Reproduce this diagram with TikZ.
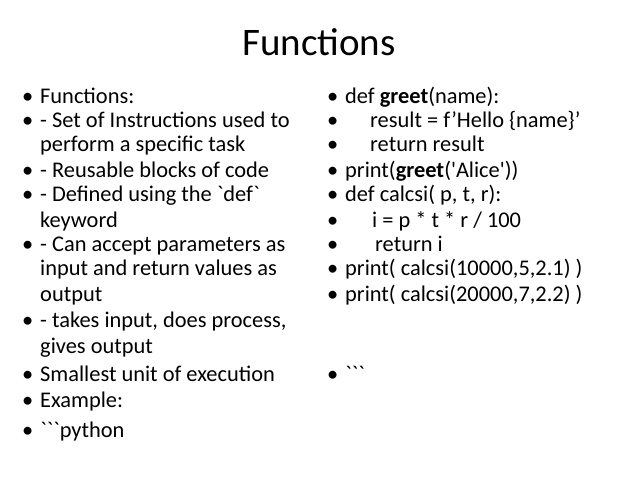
\documentclass[tikz,border=0pt]{standalone}
\usepackage{fontspec}
\setmainfont{Carlito}[Ligatures=TeXOff]
\tikzset{
  line/.style={anchor=base west, inner sep=0pt, font=\fontsize{22.4}{24}\selectfont},
  title/.style={anchor=base, inner sep=0pt, font=\fontsize{39}{42}\selectfont}
}
\begin{document}
\begin{tikzpicture}[x=1pt,y=-1pt]
\useasboundingbox (0,0) rectangle (638,478);
\node[title] (title) at (319,56) {Functions};
% left column
\foreach \i/\y/\b/\t in {1/104/1/Functions:, 2/128/1/- Set of Instructions used to, 3/152/0/perform a specific task,
  4/178/1/- Reusable blocks of code, 5/202/1/- Defined using the `def`, 6/228/0/keyword,
  7/252/1/- Can accept parameters as, 8/276/0/input and return values as, 9/302/0/output,
  10/328/1/{- takes input, does process,}, 11/354/0/gives output, 12/382/1/Smallest unit of execution,
  13/408/1/Example:, 14/438/1/```python}{
  \node[line] (l\i) at (40,\y) {\t};
  \ifnum\b=1 \node[line] (lb\i) at (22,\y) {•};\fi
}
% right column
\foreach \i/\y/\x/\t in {1/104/345/def \textbf{greet}(name):, 2/128/370/result = f’Hello \{name\}’,
  3/152/370/return result, 4/178/345/print(\textbf{greet}('Alice')), 5/202/345/{def calcsi( p, t, r):},
  6/228/372/{i = p * t * r / 100}, 7/252/375/return i, 8/276/345/{print( calcsi(10000,5,2.1) )},
  9/302/345/{print( calcsi(20000,7,2.2) )}, 10/382/345/```}{
  \node[line] (r\i) at (\x,\y) {\t};
  \node[line] (rb\i) at (327,\y) {•};
}
\end{tikzpicture}
\end{document}
